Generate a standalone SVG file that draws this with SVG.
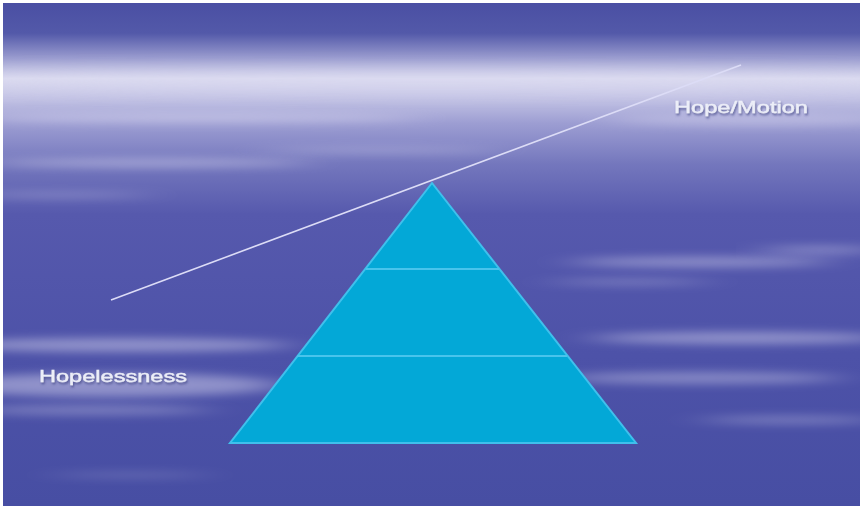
<svg xmlns="http://www.w3.org/2000/svg" width="863" height="509" viewBox="0 0 863 509">
  <defs>
    <linearGradient id="sky" x1="0" y1="0" x2="0" y2="1">
      <stop offset="0" stop-color="#4a4fa3"/>
      <stop offset="0.06" stop-color="#5359a9"/>
      <stop offset="0.11" stop-color="#9a9ccf"/>
      <stop offset="0.15" stop-color="#dadaef"/>
      <stop offset="0.19" stop-color="#c2c2e4"/>
      <stop offset="0.24" stop-color="#9c9dd2"/>
      <stop offset="0.32" stop-color="#7477bd"/>
      <stop offset="0.42" stop-color="#5659ad"/>
      <stop offset="0.7" stop-color="#4d52a8"/>
      <stop offset="1" stop-color="#474ea3"/>
    </linearGradient>
    <filter id="streak" x="-20%" y="-200%" width="140%" height="500%">
      <feGaussianBlur stdDeviation="22 5"/>
    </filter>
    <filter id="soft" x="-20%" y="-200%" width="140%" height="500%">
      <feGaussianBlur stdDeviation="25 9"/>
    </filter>
    <filter id="glow" x="-10%" y="-50%" width="120%" height="200%">
      <feGaussianBlur in="SourceAlpha" stdDeviation="1.2" result="b"/>
      <feOffset dx="1" dy="1.5" in="b" result="o"/>
      <feFlood flood-color="#3a3f80" flood-opacity="0.7"/>
      <feComposite in2="o" operator="in" result="s"/>
      <feMerge><feMergeNode in="s"/><feMergeNode in="SourceGraphic"/></feMerge>
    </filter>
  </defs>
  <style>
    .cl { fill: #e2e0f4; filter: url(#streak); }
    .cls { fill: #dcdaf2; filter: url(#soft); }
    .lbl { font-family: "Liberation Sans", Arial, sans-serif; font-weight: normal; fill: #eceef8; stroke: #eceef8; stroke-width: 0.4; filter: url(#glow); }
    .tier { fill: none; stroke: #48c4ec; stroke-width: 2; }
  </style>

  <rect x="0" y="0" width="863" height="509" fill="#ffffff"/>
  <g id="background">
    <rect x="3" y="3" width="857" height="503" fill="url(#sky)"/>
    <svg x="3" y="3" width="857" height="503" viewBox="3 3 857 503" overflow="hidden">
      <ellipse class="cls" cx="430" cy="80" rx="520" ry="9" opacity="0.55"/>
      <ellipse class="cl" cx="200" cy="118" rx="220" ry="5" opacity="0.4"/>
      <ellipse class="cl" cx="760" cy="120" rx="150" ry="6" opacity="0.35"/>
      <ellipse class="cl" cx="150" cy="163" rx="160" ry="4" opacity="0.45"/>
      <ellipse class="cl" cx="380" cy="150" rx="120" ry="3" opacity="0.3"/>
      <ellipse class="cl" cx="60" cy="195" rx="90" ry="3" opacity="0.3"/>
      <ellipse class="cl" cx="700" cy="262" rx="130" ry="5" opacity="0.42"/>
      <ellipse class="cl" cx="820" cy="250" rx="60" ry="4" opacity="0.38"/>
      <ellipse class="cl" cx="630" cy="282" rx="80" ry="3" opacity="0.32"/>
      <ellipse class="cl" cx="740" cy="338" rx="150" ry="6" opacity="0.45"/>
      <ellipse class="cl" cx="700" cy="378" rx="140" ry="6" opacity="0.38"/>
      <ellipse class="cl" cx="790" cy="420" rx="90" ry="4" opacity="0.32"/>
      <ellipse class="cl" cx="120" cy="345" rx="170" ry="7" opacity="0.45"/>
      <ellipse class="cl" cx="110" cy="385" rx="170" ry="12" opacity="0.45"/>
      <ellipse class="cl" cx="90" cy="410" rx="120" ry="5" opacity="0.32"/>
      <ellipse class="cl" cx="130" cy="475" rx="80" ry="3" opacity="0.2"/>
    </svg>
  </g>

  <g id="pyramid">
    <polygon points="432,183 636,443 230,443" fill="#03a8d7" stroke="#40c0ec" stroke-width="2"/>
    <line class="tier" x1="366" y1="269" x2="499" y2="269"/>
    <line class="tier" x1="297" y1="356" x2="567" y2="356"/>
  </g>

  <g id="connectors">
    <line x1="111" y1="300" x2="741" y2="65" stroke="#dcdcf6" stroke-width="1.6"/>
  </g>

  <g id="label-hope">
    <text class="lbl" x="674" y="113" font-size="16" textLength="134" lengthAdjust="spacingAndGlyphs">Hope/Motion</text>
  </g>
  <g id="label-hopelessness">
    <text class="lbl" x="39" y="382" font-size="17" textLength="148" lengthAdjust="spacingAndGlyphs">Hopelessness</text>
  </g>
</svg>
